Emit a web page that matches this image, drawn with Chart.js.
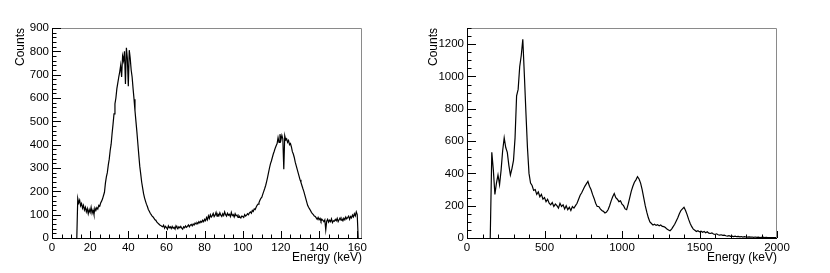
<!DOCTYPE html>
<html>
<head>
<meta charset="utf-8">
<script src="https://cdn.jsdelivr.net/npm/chart.js@4.4.1/dist/chart.umd.min.js"></script>
<style>
  html, body { margin: 0; padding: 0; background: #fff; }
  #wrap { position: relative; width: 830px; height: 273px; }
  canvas { position: absolute; top: 0; }
  #left { left: 0; }
  #right { left: 415px; }
</style>
</head>
<body>
<div id="wrap">
  <canvas id="left" width="415" height="273"></canvas>
  <canvas id="right" width="415" height="273"></canvas>
</div>
<script>
// left spectrum: counts every 0.5 keV starting at 13 keV
var leftStart = 13;
var leftStep = 0.5;
var leftCounts = [
    0, 170, 150, 162, 138, 148, 128, 140, 120, 132,
    112, 126, 104, 122, 110, 132, 106, 120, 100, 128,
    118, 130, 124, 140, 136, 150, 158, 168, 182, 196,
    235, 262, 280, 312, 338, 375, 402, 448, 488, 532,
    575, 600, 640, 665, 690, 712, 740, 690, 780, 760,
    800, 660, 815, 770, 650, 805, 770, 720, 690, 640,
    595, 545, 500, 455, 405, 355, 308, 275, 240, 215,
    190, 172, 158, 145, 135, 122, 115, 106, 100, 94,
    90, 84, 78, 75, 68, 64, 60, 56, 54, 50,
    48, 55, 42, 50, 45, 38, 52, 44, 48, 40,
    50, 42, 46, 38, 52, 45, 40, 48, 44, 50,
    42, 38, 48, 44, 52, 46, 50, 56, 48, 55,
    58, 52, 60, 56, 64, 60, 66, 62, 70, 65,
    72, 68, 76, 70, 80, 74, 88, 78, 95, 84,
    100, 90, 96, 105, 92, 98, 110, 94, 102, 96,
    108, 98, 92, 104, 96, 112, 100, 94, 106, 98,
    102, 92, 110, 96, 100, 90, 104, 95, 98, 88,
    96, 90, 86, 94, 92, 88, 100, 94, 98, 104,
    100, 108, 112, 106, 118, 114, 125, 122, 132, 140,
    145, 152, 162, 170, 175, 188, 200, 212, 225, 242,
    260, 280, 300, 318, 330, 345, 360, 372, 385, 395,
    405, 430, 410, 445, 420, 440, 425, 295, 438, 420,
    425, 410, 418, 400, 405, 390, 370, 360, 345, 325,
    310, 295, 280, 265, 250, 238, 225, 212, 200, 185,
    170, 155, 140, 132, 125, 118, 110, 104, 100, 94,
    92, 86, 80, 88, 78, 84, 72, 80, 76, 70,
    78, 35, 72, 80, 68, 76, 70, 82, 66, 74,
    72, 80, 74, 84, 70, 78, 86, 76, 82, 74,
    85, 78, 90, 82, 88, 94, 80, 92, 86, 98,
    90, 104, 95, 112, 100, 0
];

// right spectrum: counts every 10 keV starting at 150 keV
var rightStart = 150;
var rightStep = 10;
var rightCounts = [
    0, 530, 420, 270, 340, 390, 330, 420, 540, 620,
    560, 530, 450, 390, 430, 480, 620, 880, 920, 1060,
    1130, 1230, 1010, 780, 560, 400, 340, 325, 295, 300,
    270, 285, 255, 270, 240, 250, 225, 240, 215, 205,
    220, 195, 210, 200, 185, 215, 195, 205, 180, 200,
    175, 190, 170, 195, 185, 200, 215, 240, 265, 280,
    300, 320, 335, 350, 320, 300, 270, 245, 215, 195,
    195, 180, 170, 165, 155, 160, 175, 200, 230, 255,
    275, 250, 240, 225, 230, 210, 200, 180, 175, 210,
    250, 290, 320, 345, 360, 380, 365, 340, 300, 250,
    200, 160, 125, 100, 90, 80, 85, 78, 82, 75,
    80, 72, 70, 65, 55, 50, 45, 55, 70, 85,
    105, 125, 150, 170, 180, 190, 170, 145, 115, 90,
    70, 55, 48, 40, 45, 38, 42, 35, 40, 32,
    38, 30, 28, 32, 25, 22, 26, 20, 18, 20,
    16, 18, 14, 12, 15, 10, 12, 9, 11, 8,
    10, 7, 9, 6, 8, 6, 5, 7, 5, 6,
    4, 6, 4, 5, 3, 4, 5, 3, 4, 3,
    3, 2, 3, 2, 3, 2
];

var leftXTicks = [0, 20, 40, 60, 80, 100, 120, 140, 160];
var leftYTicks = [0, 100, 200, 300, 400, 500, 600, 700, 800, 900];
var rightXTicks = [0, 500, 1000, 1500, 2000];
var rightYTicks = [0, 200, 400, 600, 800, 1000, 1200];

var FONT = 'Liberation Sans, Arial, Helvetica, sans-serif';

// ROOT style frame with inward major/minor ticks
var rootFrame = {
    id: 'rootFrame',
    afterDraw: function (chart, args, opts) {
        var ctx = chart.ctx;
        var a = chart.chartArea;
        var x = chart.scales.x;
        var y = chart.scales.y;
        ctx.save();
        ctx.lineWidth = 1;
        ctx.strokeStyle = '#8a8a8a';
        ctx.beginPath();
        ctx.moveTo(a.left, a.top + 0.5);
        ctx.lineTo(a.right - 0.5, a.top + 0.5);
        ctx.lineTo(a.right - 0.5, a.bottom);
        ctx.stroke();
        ctx.strokeStyle = '#000';
        ctx.beginPath();
        ctx.moveTo(a.left + 0.5, a.top);
        ctx.lineTo(a.left + 0.5, a.bottom + 0.5);
        ctx.lineTo(a.right, a.bottom + 0.5);
        ctx.stroke();

        ctx.beginPath();
        var v, p, len;
        for (v = 0; v <= y.max + 1e-6; v += opts.yMinor) {
            p = Math.round(y.getPixelForValue(v)) + 0.5;
            len = (Math.abs(v % opts.yMajor) < 1e-6) ? 9 : 4.5;
            ctx.moveTo(a.left, p);
            ctx.lineTo(a.left + len, p);
        }
        for (v = 0; v <= x.max + 1e-6; v += opts.xMinor) {
            p = Math.round(x.getPixelForValue(v)) + 0.5;
            len = (Math.abs(v % opts.xMajor) < 1e-6) ? 7 : 3.5;
            ctx.moveTo(p, a.bottom);
            ctx.lineTo(p, a.bottom - len);
        }
        ctx.stroke();
        ctx.restore();
    }
};

function plain(v) {
    return String(v);
}

function makeChart(id, start, step, counts, xMax, yMax, xTicks, yTicks, ticksOpt, yTitlePad) {
    var pts = counts.map(function (c, i) {
        return { x: start + i * step, y: c };
    });
    var ctx = document.getElementById(id).getContext('2d');
    return new Chart(ctx, {
        type: 'scatter',
        data: {
            datasets: [{
                data: pts,
                showLine: true,
                borderColor: '#000',
                borderWidth: 1.2,
                pointRadius: 0,
                tension: 0,
                fill: false
            }]
        },
        options: {
            responsive: false,
            animation: false,
            devicePixelRatio: 1,
            layout: { padding: { top: 28, right: 53, left: 0, bottom: 0 } },
            plugins: {
                legend: { display: false },
                tooltip: { enabled: false },
                rootFrame: ticksOpt
            },
            scales: {
                x: {
                    type: 'linear',
                    min: 0,
                    max: xMax,
                    grid: { display: false, drawTicks: false },
                    border: { display: false },
                    afterFit: function (s) { s.height = 35; },
                    afterBuildTicks: function (s) {
                        s.ticks = xTicks.map(function (t) { return { value: t }; });
                    },
                    ticks: {
                        autoSkip: false,
                        maxRotation: 0,
                        padding: 3,
                        color: '#000',
                        callback: plain,
                        font: { family: FONT, size: 11.5 }
                    },
                    title: {
                        display: true,
                        text: 'Energy (keV)',
                        align: 'end',
                        color: '#000',
                        font: { family: FONT, size: 12, lineHeight: 1.2 },
                        padding: { top: 0, bottom: 8 }
                    }
                },
                y: {
                    type: 'linear',
                    min: 0,
                    max: yMax,
                    grid: { display: false, drawTicks: false },
                    border: { display: false },
                    afterFit: function (s) { s.width = 52; },
                    afterBuildTicks: function (s) {
                        s.ticks = yTicks.map(function (t) { return { value: t }; });
                    },
                    ticks: {
                        autoSkip: false,
                        padding: 3,
                        color: '#000',
                        callback: plain,
                        font: { family: FONT, size: 11.5 }
                    },
                    title: {
                        display: true,
                        text: 'Counts',
                        align: 'end',
                        color: '#000',
                        font: { family: FONT, size: 12, lineHeight: 1.2 },
                        padding: { top: yTitlePad, bottom: 0 }
                    }
                }
            }
        },
        plugins: [rootFrame]
    });
}

makeChart('left', leftStart, leftStep, leftCounts, 162.5, 900, leftXTicks, leftYTicks,
    { xMinor: 5, xMajor: 20, yMinor: 20, yMajor: 100 }, 13);
makeChart('right', rightStart, rightStep, rightCounts, 2000, 1300, rightXTicks, rightYTicks,
    { xMinor: 100, xMajor: 500, yMinor: 50, yMajor: 200 }, 11);
</script>
</body>
</html>
